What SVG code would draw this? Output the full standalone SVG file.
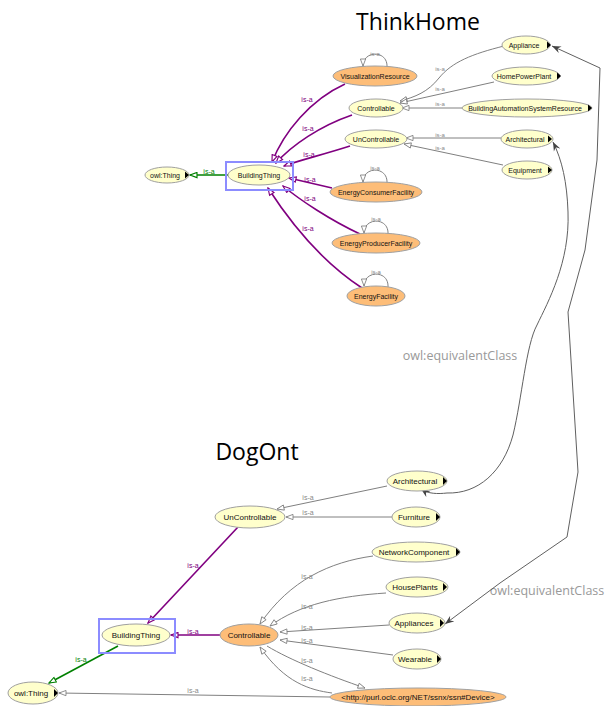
<svg xmlns="http://www.w3.org/2000/svg" width="608" height="706" viewBox="0 0 608 706">
<style>
.n{fill:#ffffcc;stroke:#a0a0a0;stroke-width:1}
.o{fill:#fdbd78;stroke:#a0a0a0;stroke-width:1}
.t{font-family:"Liberation Sans",Arial,sans-serif;font-size:7px;fill:#111;text-anchor:middle}
.tb{font-family:"Liberation Sans",Arial,sans-serif;font-size:8px;fill:#111;text-anchor:middle}
.exp{fill:#000}
.sel{fill:none;stroke:#8c8cff;stroke-width:2}
.eg{fill:none;stroke:#808080;stroke-width:1;marker-end:url(#mg)}
.ep{fill:none;stroke:#800080;stroke-width:1.6;marker-end:url(#mp)}
.eG{fill:none;stroke:#008000;stroke-width:1.6;marker-end:url(#mG)}
.eq{fill:none;stroke:#606060;stroke-width:1;marker-end:url(#mq);marker-start:url(#mq)}
.l{font-family:"Liberation Sans",Arial,sans-serif;font-size:6px;fill:#888;text-anchor:middle}
.lb{font-family:"Liberation Sans",Arial,sans-serif;font-size:7px;fill:#888;text-anchor:middle}
.lp{font-family:"Liberation Sans",Arial,sans-serif;font-size:7px;fill:#800080;text-anchor:middle}
.lG{font-family:"Liberation Sans",Arial,sans-serif;font-size:7px;fill:#008000;text-anchor:middle}
.title{font-family:"Open Sans","DejaVu Sans",sans-serif;font-size:23px;fill:#000;text-anchor:middle}
.eqt{font-family:"Open Sans","DejaVu Sans",sans-serif;font-size:12.5px;fill:#999;text-anchor:middle}
</style>
<defs>
<marker id="mg" viewBox="0 0 10 8" refX="9" refY="4" markerWidth="9" markerHeight="7" markerUnits="userSpaceOnUse" orient="auto"><path d="M1,1 L9,4 L1,7 Z" fill="#fff" stroke="#808080" stroke-width="1"/></marker>
<marker id="mp" viewBox="0 0 10 8" refX="9" refY="4" markerWidth="9" markerHeight="7" markerUnits="userSpaceOnUse" orient="auto"><path d="M1,1 L9,4 L1,7 Z" fill="#fff" stroke="#800080" stroke-width="1.3"/></marker>
<marker id="mG" viewBox="0 0 10 8" refX="9" refY="4" markerWidth="9" markerHeight="7" markerUnits="userSpaceOnUse" orient="auto"><path d="M1,1 L9,4 L1,7 Z" fill="#fff" stroke="#008000" stroke-width="1.3"/></marker>
<marker id="mq" viewBox="0 0 10 8" refX="9" refY="4" markerWidth="10" markerHeight="8" markerUnits="userSpaceOnUse" orient="auto-start-reverse"><path d="M0,0.5 L9,4 L0,7.5 L3,4 Z" fill="#444"/></marker>
</defs>
<rect width="608" height="706" fill="#fff"/>

<text class="title" x="418" y="30">ThinkHome</text>
<text class="title" x="257" y="460">DogOnt</text>
<text class="eqt" x="460" y="360">owl:equivalentClass</text>
<text class="eqt" x="547" y="595">owl:equivalentClass</text>

<g id="connectors">
<!-- top purple -->
<path class="ep" d="M345,84 C310,100 284,132 272,162"/>
<path class="ep" d="M352,115 C320,126 292,145 276,163"/>
<path class="ep" d="M350,146 C322,155 300,160 284,166"/>
<path class="ep" d="M332,188 L289,178"/>
<path class="ep" d="M360,234 C330,220 300,200 283,186"/>
<path class="ep" d="M362,288 C322,262 290,222 268,188"/>
<text class="lp" x="307" y="102">is-a</text>
<text class="lp" x="308" y="131">is-a</text>
<text class="lp" x="309" y="157">is-a</text>
<text class="lp" x="310" y="182">is-a</text>
<text class="lp" x="310" y="201">is-a</text>
<text class="lp" x="308" y="231">is-a</text>
<!-- top green -->
<path class="eG" d="M228,175 L190,175"/>
<text class="lG" x="209" y="174">is-a</text>
<!-- top gray -->
<path class="eg" d="M504,46 C472,54 452,62 439,78 C428,92 415,97 400,101"/>
<path class="eg" d="M494,82 L400,103"/>
<path class="eg" d="M462,108 L402,108"/>
<path class="eg" d="M501,138 L406,138"/>
<path class="eg" d="M503,165 L404,144"/>
<text class="l" x="440" y="71">is-a</text>
<text class="l" x="440" y="91">is-a</text>
<text class="l" x="440" y="106">is-a</text>
<text class="l" x="440" y="137">is-a</text>
<text class="l" x="440" y="150">is-a</text>
<!-- self loops -->
<path class="eg" d="M387,67 C388,50 363,50 363,66"/>
<path class="eg" d="M387,183 C388,166 363,166 363,182"/>
<path class="eg" d="M388,234 C389,217 364,217 364,233"/>
<path class="eg" d="M388,287 C389,270 364,270 364,286"/>
<text class="l" x="375" y="56">is-a</text>
<text class="l" x="375" y="170">is-a</text>
<text class="l" x="376" y="221">is-a</text>
<text class="l" x="376" y="274">is-a</text>
<!-- equivalent class -->
<path class="eq" d="M421,489 C428,494 438,494 447,493 C478,494 503,472 513,435 C522,398 526,345 537,325 C548,302 570,262 568,212 C567,182 562,160 553,142"/>
<polyline class="eq" points="445,624 500,583 567,537 578,472 568,312 585,250 597,160 600,68 552,46"/>
<!-- bottom purple -->
<path class="ep" d="M238,527 L148,623"/>
<path class="ep" d="M220,635 L171,635"/>
<text class="lp" x="193" y="568">is-a</text>
<text class="lp" x="193" y="634">is-a</text>
<!-- bottom green -->
<path class="eG" d="M118,646 L49,683"/>
<text class="lG" x="81" y="662">is-a</text>
<!-- bottom gray -->
<path class="eg" d="M330,697 L59,693"/>
<text class="lb" x="193" y="693">is-a</text>
<path class="eg" d="M387,486 L277,509"/>
<path class="eg" d="M392,517 L286,517"/>
<path class="eg" d="M373,556 C330,562 290,580 260,624"/>
<path class="eg" d="M386,593 C340,596 300,604 270,626"/>
<path class="eg" d="M389,625 L280,632"/>
<path class="eg" d="M393,655 L280,640"/>
<path class="eg" d="M267,646 C290,660 330,676 365,688"/>
<path class="eg" d="M332,693 C310,690 285,683 260,647"/>
<text class="lb" x="308" y="500">is-a</text>
<text class="lb" x="308" y="515">is-a</text>
<text class="lb" x="307" y="579">is-a</text>
<text class="lb" x="307" y="609">is-a</text>
<text class="lb" x="307" y="630">is-a</text>
<text class="lb" x="307" y="643">is-a</text>
<text class="lb" x="307" y="663">is-a</text>
<text class="lb" x="307" y="681">is-a</text>
</g>

<!-- top nodes -->
<g id="th-owlThing"><ellipse class="n" cx="167" cy="175" rx="22" ry="8"/><text class="t" x="165" y="177.5">owl:Thing</text><path class="exp" d="M185,171.5 L189,175 L185,178.5 Z"/></g>
<g id="th-BuildingThing"><rect class="sel" x="226" y="162" width="67" height="28"/><ellipse class="n" cx="259" cy="175" rx="31" ry="10"/><text class="t" x="259" y="177.5">BuildingThing</text></g>
<g id="th-VisualizationResource"><ellipse class="o" cx="375" cy="76" rx="42" ry="10"/><text class="t" x="375" y="78.5">VisualizationResource</text></g>
<g id="th-Controllable"><ellipse class="n" cx="376" cy="108" rx="27" ry="9"/><text class="t" x="376" y="110.5">Controllable</text></g>
<g id="th-UnControllable"><ellipse class="n" cx="376" cy="139" rx="31" ry="9"/><text class="t" x="376" y="141.5">UnControllable</text></g>
<g id="th-EnergyConsumerFacility"><ellipse class="o" cx="376" cy="192" rx="46" ry="10"/><text class="t" x="376" y="194.5">EnergyConsumerFacility</text></g>
<g id="th-EnergyProducerFacility"><ellipse class="o" cx="376" cy="243" rx="44" ry="10"/><text class="t" x="376" y="245.5">EnergyProducerFacility</text></g>
<g id="th-EnergyFacility"><ellipse class="o" cx="376" cy="296" rx="29" ry="10"/><text class="t" x="376" y="298.5">EnergyFacility</text></g>
<g id="th-Appliance"><ellipse class="n" cx="526" cy="45" rx="24" ry="9"/><text class="t" x="524" y="47.5">Appliance</text><path class="exp" d="M547,41.5 L551,45 L547,48.5 Z"/></g>
<g id="th-HomePowerPlant"><ellipse class="n" cx="526" cy="76" rx="34" ry="9"/><text class="t" x="524" y="78.5">HomePowerPlant</text><path class="exp" d="M557,72.5 L561,76 L557,79.5 Z"/></g>
<g id="th-BASR"><ellipse class="n" cx="527" cy="108" rx="65" ry="9"/><text class="t" x="525" y="110.5">BuildingAutomationSystemResource</text><path class="exp" d="M588,104.5 L592,108 L588,111.5 Z"/></g>
<g id="th-Architectural"><ellipse class="n" cx="527" cy="139" rx="26" ry="9"/><text class="t" x="525" y="141.5">Architectural</text><path class="exp" d="M548,135.5 L552,139 L548,142.5 Z"/></g>
<g id="th-Equipment"><ellipse class="n" cx="527" cy="170" rx="25" ry="9"/><text class="t" x="525" y="172.5">Equipment</text><path class="exp" d="M548,166.5 L552,170 L548,173.5 Z"/></g>

<!-- bottom nodes -->
<g id="do-UnControllable"><ellipse class="n" cx="250" cy="517" rx="35" ry="11"/><text class="tb" x="250" y="520">UnControllable</text></g>
<g id="do-BuildingThing"><rect class="sel" x="99" y="619" width="76" height="34"/><ellipse class="n" cx="136" cy="635" rx="34" ry="11"/><text class="tb" x="136" y="638">BuildingThing</text></g>
<g id="do-Controllable"><ellipse class="o" cx="249" cy="635" rx="29" ry="11"/><text class="tb" x="249" y="638">Controllable</text></g>
<g id="do-owlThing"><ellipse class="n" cx="33" cy="693" rx="25" ry="11"/><text class="tb" x="31" y="696">owl:Thing</text><path class="exp" d="M54,689 L58,693 L54,697 Z"/></g>
<g id="do-Architectural"><ellipse class="n" cx="417" cy="481" rx="30" ry="10"/><text class="tb" x="415" y="484">Architectural</text><path class="exp" d="M443,477 L447,481 L443,485 Z"/></g>
<g id="do-Furniture"><ellipse class="n" cx="416" cy="517" rx="24" ry="10"/><text class="tb" x="414" y="520">Furniture</text><path class="exp" d="M436,513 L440,517 L436,521 Z"/></g>
<g id="do-NetworkComponent"><ellipse class="n" cx="416" cy="552" rx="44" ry="10"/><text class="tb" x="414" y="555">NetworkComponent</text><path class="exp" d="M456,548 L460,552 L456,556 Z"/></g>
<g id="do-HousePlants"><ellipse class="n" cx="417" cy="587" rx="31" ry="10"/><text class="tb" x="415" y="590">HousePlants</text><path class="exp" d="M443,583 L447,587 L443,591 Z"/></g>
<g id="do-Appliances"><ellipse class="n" cx="417" cy="623" rx="28" ry="10"/><text class="tb" x="414" y="626">Appliances</text><path class="exp" d="M440,619 L444,623 L440,627 Z"/></g>
<g id="do-Wearable"><ellipse class="n" cx="417" cy="659" rx="24" ry="10"/><text class="tb" x="415" y="662">Wearable</text><path class="exp" d="M437,655 L441,659 L437,663 Z"/></g>
<g id="do-Device"><ellipse class="o" cx="418" cy="697" rx="88" ry="9"/><text class="tb" x="418" y="700">&lt;http://purl.oclc.org/NET/ssnx/ssn#Device&gt;</text></g>
</svg>
